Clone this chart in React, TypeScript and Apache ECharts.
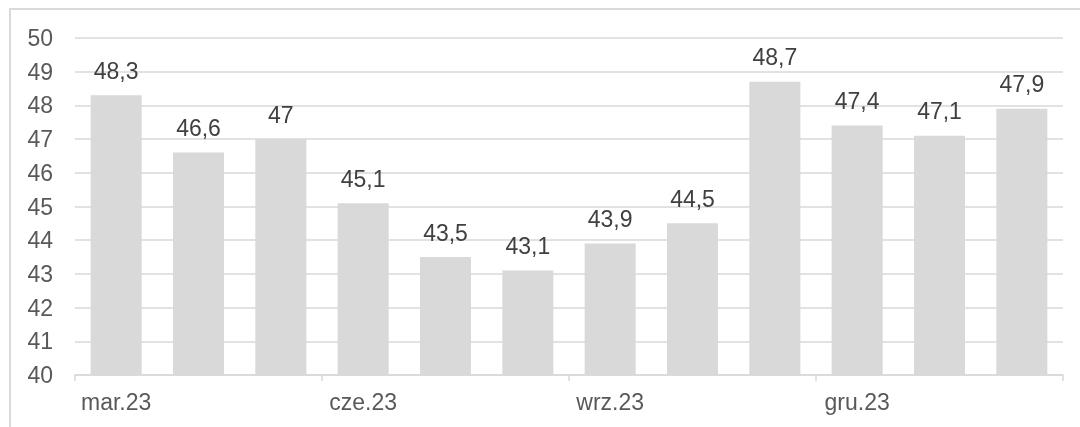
import React, { useEffect, useRef } from "react";
import * as echarts from "echarts";

const categories = ["mar.23", "kwi.23", "maj.23", "cze.23", "lip.23", "sie.23", "wrz.23", "paź.23", "lis.23", "gru.23", "sty.24", "lut.24"];
const values = [48.3, 46.6, 47, 45.1, 43.5, 43.1, 43.9, 44.5, 48.7, 47.4, 47.1, 47.9];
const yMin = 40;
const yMax = 50;

export default function App() {
  const ref = useRef<HTMLDivElement>(null);
  useEffect(() => {
    const chart = echarts.init(ref.current!, null, { renderer: "svg" });
    const font = "Liberation Sans, Arial, sans-serif";
    chart.setOption({
      animation: false,
      grid: { left: 75, right: 17, top: 38, bottom: 52 },
      graphic: [
        {
          type: "rect",
          shape: { x: 10, y: 9, width: 1200, height: 600 },
          style: { fill: "none", stroke: "#d9d9d9", lineWidth: 2 },
          silent: true,
        },
      ],
      xAxis: {
        type: "category",
        data: categories,
        axisLine: { lineStyle: { color: "#d9d9d9", width: 1.5 } },
        axisTick: { show: true, interval: 2, length: 6, lineStyle: { color: "#d9d9d9", width: 1.5 } },
        axisLabel: { interval: 2, color: "#595959", fontSize: 23, fontFamily: font, margin: 15 },
      },
      yAxis: {
        type: "value",
        min: yMin,
        max: yMax,
        interval: 1,
        axisLine: { show: false },
        axisTick: { show: false },
        axisLabel: { color: "#595959", fontSize: 23, fontFamily: font, margin: 22 },
        splitLine: { lineStyle: { color: "#d9d9d9", width: 1.5 } },
      },
      series: [
        {
          type: "bar",
          data: values,
          barCategoryGap: "38%",
          itemStyle: { color: "#d9d9d9" },
          label: {
            show: true,
            position: "top",
            distance: 13,
            color: "#404040",
            fontSize: 23,
            fontFamily: font,
            formatter: (p: any) => String(p.value).replace(".", ","),
          },
        },
      ],
    });
    return () => chart.dispose();
  }, []);
  return <div ref={ref} style={{ position: "fixed", left: 0, top: 0, width: 1080, height: 427 }} />;
}
